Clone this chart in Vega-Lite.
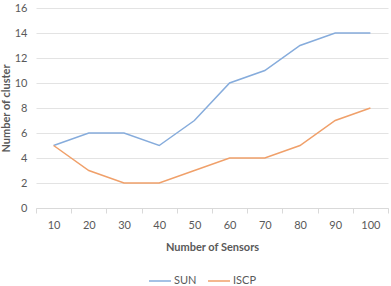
{
  "$schema": "https://vega.github.io/schema/vega-lite/v6.json",
  "width": 352,
  "height": 200,
  "autosize": "none",
  "padding": {"left": 36, "top": 8, "right": 3, "bottom": 78},
  "background": "white",
  "config": {
    "font": "Lato",
    "view": {"stroke": null},
    "axis": {"labelColor": "#595959", "titleColor": "#595959", "labelFontSize": 11, "titleFontSize": 11, "titleFontWeight": "bold", "labelFont": "Lato", "titleFont": "Lato"}
  },
  "data": {
    "values": [
      {"sensors": 10, "series": "SUN", "clusters": 5},
      {"sensors": 20, "series": "SUN", "clusters": 6},
      {"sensors": 30, "series": "SUN", "clusters": 6},
      {"sensors": 40, "series": "SUN", "clusters": 5},
      {"sensors": 50, "series": "SUN", "clusters": 7},
      {"sensors": 60, "series": "SUN", "clusters": 10},
      {"sensors": 70, "series": "SUN", "clusters": 11},
      {"sensors": 80, "series": "SUN", "clusters": 13},
      {"sensors": 90, "series": "SUN", "clusters": 14},
      {"sensors": 100, "series": "SUN", "clusters": 14},
      {"sensors": 10, "series": "ISCP", "clusters": 5},
      {"sensors": 20, "series": "ISCP", "clusters": 3},
      {"sensors": 30, "series": "ISCP", "clusters": 2},
      {"sensors": 40, "series": "ISCP", "clusters": 2},
      {"sensors": 50, "series": "ISCP", "clusters": 3},
      {"sensors": 60, "series": "ISCP", "clusters": 4},
      {"sensors": 70, "series": "ISCP", "clusters": 4},
      {"sensors": 80, "series": "ISCP", "clusters": 5},
      {"sensors": 90, "series": "ISCP", "clusters": 7},
      {"sensors": 100, "series": "ISCP", "clusters": 8}
    ]
  },
  "mark": {"type": "line", "strokeWidth": 1.5},
  "encoding": {
    "x": {
      "field": "sensors",
      "type": "ordinal",
      "sort": "ascending",
      "scale": {"type": "band", "paddingInner": 0, "paddingOuter": 0},
      "axis": {
        "title": "Number of Sensors",
        "labelAngle": 0,
        "tickBand": "extent",
        "domainColor": "#d9d9d9",
        "tickColor": "#d9d9d9",
        "tickSize": 5,
        "labelPadding": 6,
        "titlePadding": 11,
        "grid": false
      }
    },
    "y": {
      "field": "clusters",
      "type": "quantitative",
      "scale": {"domain": [0, 16]},
      "axis": {
        "title": "Number of cluster",
        "values": [0, 2, 4, 6, 8, 10, 12, 14, 16],
        "domain": false,
        "ticks": false,
        "labelPadding": 9,
        "titlePadding": 3,
        "gridColor": "#e3e3e3"
      }
    },
    "color": {
      "field": "series",
      "type": "nominal",
      "sort": ["SUN", "ISCP"],
      "scale": {"domain": ["SUN", "ISCP"], "range": ["#86acdc", "#f0a06a"]},
      "legend": {
        "title": null,
        "orient": "none",
        "direction": "horizontal",
        "legendX": 112,
        "legendY": 261,
        "symbolType": "stroke",
        "symbolSize": 484,
        "symbolStrokeWidth": 1.5,
        "labelFontSize": 11,
        "labelColor": "#595959",
        "labelOffset": 2,
        "columnPadding": 8
      }
    }
  }
}
